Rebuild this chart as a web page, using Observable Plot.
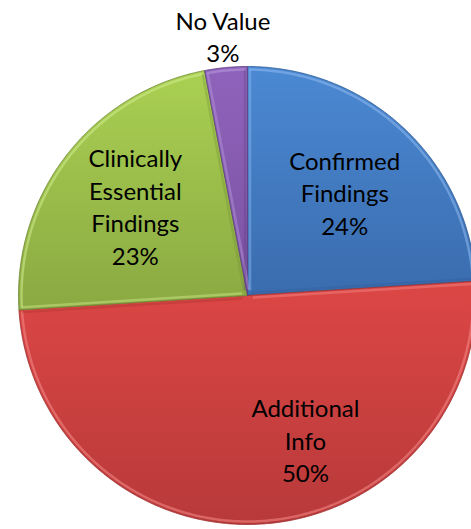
<!DOCTYPE html>
<html>
<head>
<meta charset="utf-8">
<script src="https://cdn.jsdelivr.net/npm/d3@7"></script>
<script src="https://cdn.jsdelivr.net/npm/@observablehq/plot@0.6"></script>
<style>
  html, body { margin: 0; padding: 0; background: #fff; }
  svg { display: block; }
</style>
</head>
<body>
<div id="chart"></div>
<script>
// ---- data ----
const categories = ["Confirmed Findings", "Additional Info", "Clinically Essential Findings", "No Value"];
const values = [24, 50, 23, 3];
const labelText = ["Confirmed\nFindings", "Additional\nInfo", "Clinically\nEssential\nFindings", "No Value"];
const pctText = ["24%", "50%", "23%", "3%"];
const topColors = ["#4b89d3", "#dc4745", "#aad052", "#8f63bb"];
const bottomColors = ["#3a6cae", "#b8393a", "#8aa942", "#7a52a2"];
const edgeColors = ["#2f5b94", "#9e3030", "#6f8a35", "#5e3f80"];
const lightColors = ["#8fbaf0", "#f58a88", "#d2ec8e", "#b89ade"];

// ---- layout ----
const W = 471, H = 529;
const R = 229;
const cx = 247, cy = 295;

const data = categories.map((c, i) => ({category: c, value: values[i], i}));
const arcs = d3.pie().sort(null).value(d => d.value)(data);

function arcPoints(a0, a1, r, withCenter) {
  const n = Math.max(4, Math.ceil((a1 - a0) / 0.01));
  const pts = [];
  if (withCenter) pts.push({x: 0, y: 0});
  for (let k = 0; k <= n; k++) {
    const a = a0 + (a1 - a0) * k / n;
    pts.push({x: r * Math.sin(a), y: r * Math.cos(a)});
  }
  if (withCenter) pts.push({x: 0, y: 0});
  return pts;
}

// radial edge shifted inward (towards the slice) by d pixels
function radialEdge(a, side, d) {
  // unit direction along the radius
  const ux = Math.sin(a), uy = Math.cos(a);
  // perpendicular pointing toward increasing angle (clockwise)
  const px = uy * side, py = -ux * side;
  const r0 = d * 2.5, r1 = R - 4;
  return [
    {x: ux * r0 + px * d, y: uy * r0 + py * d},
    {x: ux * r1 + px * d, y: uy * r1 + py * d}
  ];
}

const marks = [];
arcs.forEach((a, i) => {
  const pts = arcPoints(a.startAngle, a.endAngle, R, true);
  marks.push(Plot.line(pts, {x: "x", y: "y", fill: `url(#grad${i})`, stroke: edgeColors[i], strokeWidth: 1, strokeOpacity: 0.8, curve: "linear"}));
  // outer bevel highlight
  const hl = arcPoints(a.startAngle + 0.012, a.endAngle - 0.012, R - 3, false);
  marks.push(Plot.line(hl, {x: "x", y: "y", stroke: lightColors[i], strokeWidth: 2.5, strokeOpacity: 0.55, curve: "linear"}));
  // radial bevel highlights
  marks.push(Plot.line(radialEdge(a.startAngle, 1, 2.5), {x: "x", y: "y", stroke: lightColors[i], strokeWidth: 2.5, strokeOpacity: 0.45}));
  marks.push(Plot.line(radialEdge(a.endAngle, -1, 2.5), {x: "x", y: "y", stroke: edgeColors[i], strokeWidth: 2.5, strokeOpacity: 0.3}));
});

// labels at centroid-like positions
const labels = arcs.map((a, i) => {
  const mid = (a.startAngle + a.endAngle) / 2;
  const f = a.data.value < 5 ? 1.14 : 0.62;
  return {x: R * f * Math.sin(mid), y: R * f * Math.cos(mid), text: labelText[i] + "\n" + pctText[i], cat: a.data.category};
});

const textOpts = {x: "x", y: "y", text: "text", fontSize: 24, lineHeight: 1.36, fontFamily: "Lato, 'Open Sans', sans-serif", fill: "#000", textAnchor: "middle", lineAnchor: "middle"};
marks.push(Plot.text(labels.filter(d => d.cat !== "Additional Info" && d.cat !== "Clinically Essential Findings"), textOpts));
marks.push(Plot.text(labels.filter(d => d.cat === "Clinically Essential Findings"), {...textOpts, dy: -3}));
marks.push(Plot.text(labels.filter(d => d.cat === "Additional Info"), {...textOpts, dx: 49, dy: 2}));

const svg = Plot.plot({
  width: W,
  height: H,
  margin: 0,
  x: {domain: [-cx, W - cx], axis: null},
  y: {domain: [cy - H, cy], axis: null},
  style: {background: "#fff", overflow: "hidden"},
  marks
});

const defs = d3.select(svg).insert("defs", ":first-child");
topColors.forEach((c, i) => {
  const g = defs.append("linearGradient").attr("id", `grad${i}`).attr("x1", 0).attr("y1", 0).attr("x2", 0).attr("y2", 1);
  g.append("stop").attr("offset", "0%").attr("stop-color", c);
  g.append("stop").attr("offset", "100%").attr("stop-color", bottomColors[i]);
});

document.getElementById("chart").appendChild(svg);
</script>
</body>
</html>
